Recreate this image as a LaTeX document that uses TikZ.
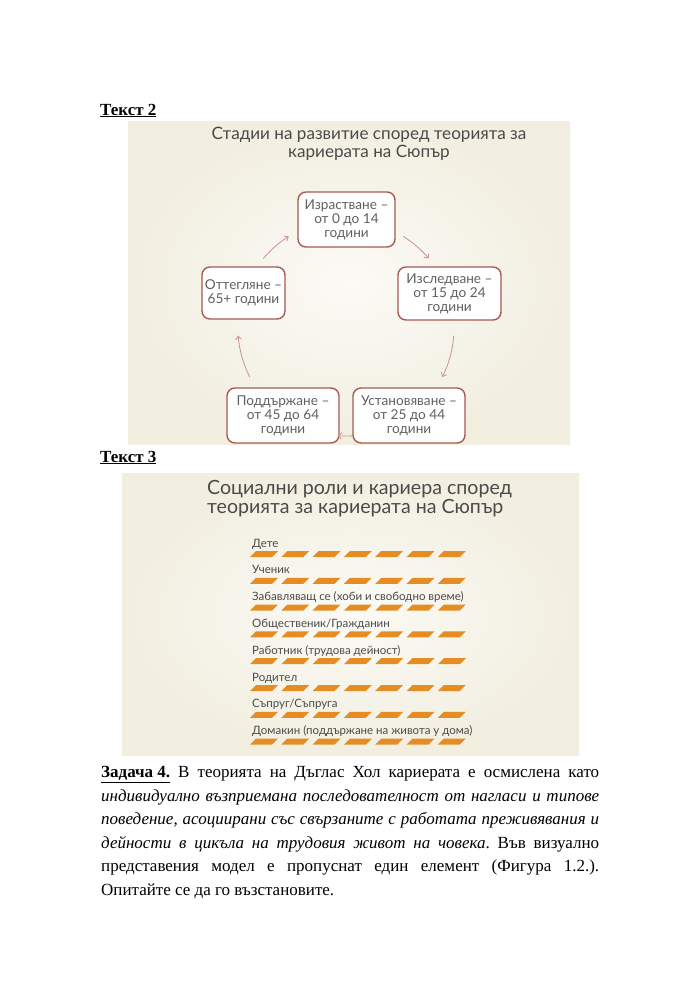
\documentclass[tikz,border=0pt]{standalone}
\usepackage{fontspec}
\setmainfont{Liberation Serif}
\newfontfamily\slidefont{Lato}
\usetikzlibrary{arrows.meta}
\definecolor{boxred}{HTML}{A65A52}
\definecolor{arrowc}{HTML}{C8958D}
\definecolor{slidetxt}{HTML}{4A4A4A}
\definecolor{boxtxt}{HTML}{606060}
\definecolor{stripec}{HTML}{E48D25}
\definecolor{creamA}{HTML}{F2EFE1}
\definecolor{creamB}{HTML}{FBFAF5}
\frenchspacing
\begin{document}
\begin{tikzpicture}[x=1pt,y=1pt,
  stagebox/.style={draw=boxred, line width=1.4pt, rounded corners=8pt, fill=white,
    align=center, inner sep=0pt, text=boxtxt,
    font=\slidefont\fontsize{13.6}{14}\selectfont},
  arr/.style={draw=arrowc, line width=0.8pt, -{Straight Barb[length=3.5pt,width=6pt]}},
  heading/.style={anchor=base west, inner sep=0pt, font=\fontsize{17}{20}\selectfont\bfseries},
  slidebg/.style={shading=radial, inner color=creamB, outer color=creamA},
  rolelabel/.style={anchor=base west, inner sep=0pt, text=slidetxt, font=\slidefont\fontsize{11.5}{13}\selectfont},
  stripe/.style={fill=stripec}
]
\useasboundingbox (0,0) rectangle (700,-994);
\fill[white] (0,0) rectangle (700,-994);

% ---- Text 2 ----
\node[heading] (h2) at (100,-115) {\underline{Текст 2}};
\shade[slidebg] (128,-121) rectangle (570,-444);
\node[align=center, inner sep=0pt, text=slidetxt, font=\slidefont\fontsize{17.1}{18.5}\selectfont] (t1) at (369,-144)
  {Стадии на развитие според теорията за\\кариерата на Сюпър};

\node[stagebox, minimum width=97pt, minimum height=55pt] (top) at (346.5,-219.5) {Израстване –\\от 0 до 14\\години};
\node[stagebox, minimum width=103pt, minimum height=53pt] (right) at (449.5,-293.5) {Изследване –\\от 15 до 24\\години};
\node[stagebox, minimum width=83pt, minimum height=52pt] (left) at (243.5,-293) {Оттегляне –\\65+ години};
\node[stagebox, minimum width=112pt, minimum height=55pt] (bl) at (283,-415.5) {Поддържане –\\от 45 до 64\\години};
\node[stagebox, minimum width=112pt, minimum height=55pt] (br) at (409,-415.5) {Установяване –\\от 25 до 44\\години};

\coordinate (cyc) at (346,-328);
\draw[arr] ([shift={(58:108)}]cyc) arc[start angle=58, end angle=40, radius=108];
\draw[arr] ([shift={(-4:108)}]cyc) arc[start angle=-4, end angle=-27, radius=108];
\draw[arr] ([shift={(-86.5:108)}]cyc) arc[start angle=-86.5, end angle=-94.5, radius=108];
\draw[arr] ([shift={(-153:108)}]cyc) arc[start angle=-153, end angle=-176, radius=108];
\draw[arr] ([shift={(140:108)}]cyc) arc[start angle=140, end angle=122, radius=108];

% ---- Text 3 ----
\node[heading] (h3) at (100,-462) {\underline{Текст 3}};
\shade[slidebg] (122,-473) rectangle (579,-755);
\node[anchor=west, align=left, inner sep=0pt, text=slidetxt, font=\slidefont\fontsize{19.6}{19.5}\selectfont] (t2) at (207,-498.5)
  {Социални роли и кариера според\\теорията за кариерата на Сюпър};

\foreach \i/\t in {0/{Дете},1/{Ученик},2/{Забавляващ се (хоби и свободно време)},3/{Общественик/Гражданин},
  4/{Работник (трудова дейност)},5/{Родител},6/{Съпруг/Съпруга},7/{Домакин (поддържане на живота у дома)}}{
  \node[rolelabel] (role\i) at (252,{-547-26.8*\i}) {\t};
  \foreach \j in {0,...,6}{
    \fill[stripe] ({250+31.3*\j},{-557-26.8*\i}) -- ++(22,0) -- ++(6,6) -- ++(-22,0) -- cycle;
  }
}

% ---- Task 4 ----
\node[anchor=north west, inner sep=0pt, text width=498pt, align=justify,
  font=\fontsize{17}{23.6}\selectfont] (task) at (101,-766)
  {\underline{\textbf{Задача 4.}} В теорията на Дъглас Хол кариерата е осмислена като\linebreak
  \textit{индивидуално възприемана последователност от нагласи и типове\linebreak
  поведение, асоциирани със свързаните с работата преживявания и\linebreak
  дейности в цикъла на трудовия живот на човека}. Във визуално\linebreak
  представения модел е пропуснат един елемент (Фигура 1.2.).\linebreak
  Опитайте се да го възстановите.};
\end{tikzpicture}
\end{document}
